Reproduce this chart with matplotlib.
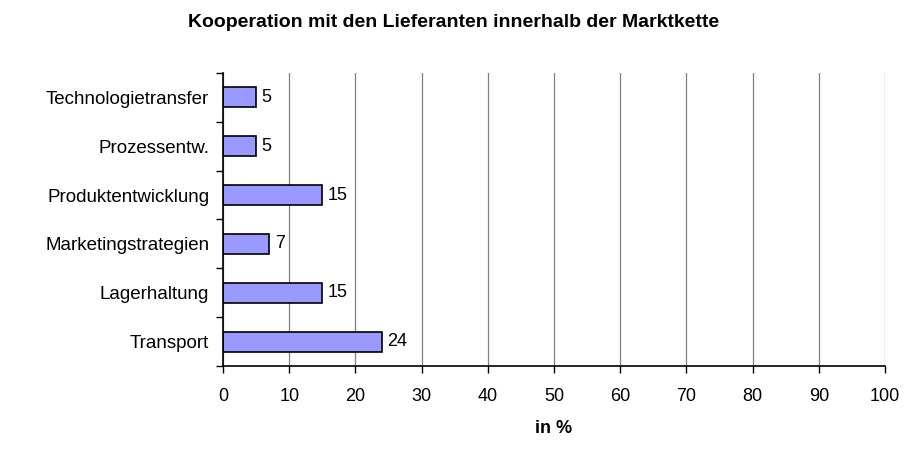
import numpy as np
import matplotlib
matplotlib.use("Agg")
import matplotlib.pyplot as plt

plt.rcParams.update({
    "font.family": ["Liberation Sans", "DejaVu Sans"],
    "font.size": 12,
})

# === Daten ===
categories = ["Transport", "Lagerhaltung", "Marketingstrategien",
              "Produktentwicklung", "Prozessentw.", "Technologietransfer"]
values = [24, 15, 7, 15, 5, 5]
x_ticks = list(range(0, 101, 10))

fig = plt.figure(figsize=(9.07, 4.5), dpi=100)
ax = fig.add_axes([0.2459, 0.1867, 0.7298, 0.6511])

y = np.arange(len(categories))
ax.barh(y, values, height=0.41, color="#9999FF", edgecolor="black",
        linewidth=1.2, zorder=3)

for yi, v in zip(y, values):
    ax.text(v + 0.8, yi, str(v), va="center", ha="left", fontsize=13)

ax.set_xlim(0, 100)
ax.set_ylim(-0.5, len(categories) - 0.5)
ax.set_xticks(x_ticks)
ax.set_xticklabels([str(t) for t in x_ticks], fontsize=13)
ax.tick_params(axis="x", length=5, width=1, pad=11)

# Kategorien-Beschriftung mittig, Ticks zwischen den Kategorien
ax.set_yticks(y)
ax.set_yticklabels(categories, fontsize=13.5)
ax.tick_params(axis="y", which="major", length=0, pad=10)
ax.set_yticks(np.arange(-0.5, len(categories), 1), minor=True)
ax.tick_params(axis="y", which="minor", length=5, width=1)

ax.grid(True, axis="x", color="#808080", linewidth=0.9, zorder=0)
ax.spines["top"].set_visible(False)
ax.spines["right"].set_visible(False)
for s in ["left", "bottom"]:
    ax.spines[s].set_linewidth(1.2)
    ax.spines[s].set_zorder(4)

ax.set_xlabel("in %", fontsize=13, fontweight="bold", labelpad=11)
fig.text(0.5, 0.951, "Kooperation mit den Lieferanten innerhalb der Marktkette",
         ha="center", va="center", fontsize=14, fontweight="bold")

fig.savefig("out.png", dpi=100)
